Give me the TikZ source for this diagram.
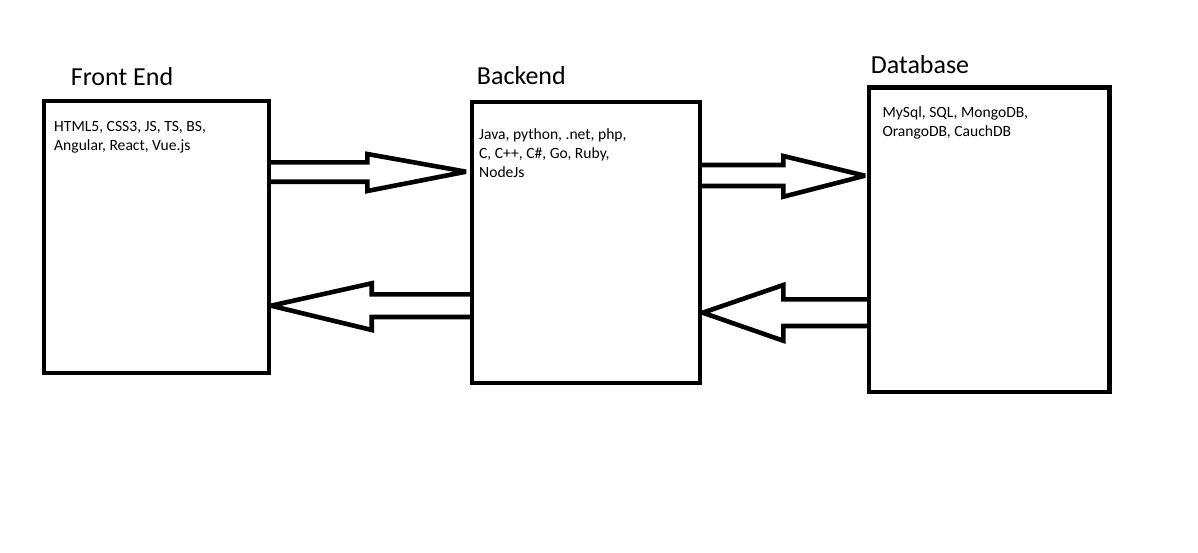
\documentclass[tikz,border=0pt]{standalone}
\usepackage{fontspec}
\setmainfont{Carlito}
\usetikzlibrary{calc}
\begin{document}
\begin{tikzpicture}[x=1pt,y=-1pt,
  box/.style={draw=black,line width=4.6pt,rectangle,outer sep=0pt,inner sep=0pt},
  title/.style={anchor=base west,inner sep=0pt,font=\fontsize{26}{31}\selectfont},
  body/.style={anchor=base west,inner sep=0pt,font=\fontsize{15.6}{19.2}\selectfont},
  blockarrow/.style={draw=black,line width=4.6pt,line join=miter,miter limit=2.5}]
\useasboundingbox[fill=white] (0,0) rectangle (1198,552);
% boxes
\node[box,minimum width=225pt,minimum height=272pt] (fe) at (156.5,237) {};
\node[box,minimum width=228pt,minimum height=281pt] (be) at (586,242.5) {};
\node[box,minimum width=240.5pt,minimum height=304.5pt] (db) at (989.25,239.75) {};
% titles
\node[title] (fet) at (70.7,85) {Front End};
\node[title] (bet) at (476.7,84) {Backend};
\node[title] (dbt) at (870.7,73.3) {Database};
% contents
\node[body] (fel) at (54,131) {\begin{tabular}[t]{@{}l@{}}HTML5, CSS3, JS, TS, BS,\\Angular, React, Vue.js\end{tabular}};
\node[body] (bel) at (479,139.3) {\begin{tabular}[t]{@{}l@{}}Java, python, .net, php,\\C, C++, C\#, Go, Ruby,\\NodeJs\end{tabular}};
\node[body] (dbl) at (882.3,117.3) {\begin{tabular}[t]{@{}l@{}}MySql, SQL, MongoDB,\\OrangoDB, CauchDB\end{tabular}};
% block arrows
% front end -> backend
\draw[blockarrow] (fe.east |- 0,162.3) -- (367.3,162.3) -- (367.3,154) -- ($(be.west |- 0,171.7)+(-6,0)$) -- (367.3,191) -- (367.3,181.7) -- (fe.east |- 0,181.7);
% backend -> database
\draw[blockarrow] (be.east |- 0,165) -- (783.3,165) -- (783.3,156) -- ($(db.west |- 0,175.7)+(-4,0)$) -- (783.3,196.7) -- (783.3,186) -- (be.east |- 0,186);
% backend -> front end
\draw[blockarrow] (be.west |- 0,294.3) -- (371.7,294.3) -- (371.7,283.3) -- ($(fe.east |- 0,305.7)+(2,0)$) -- (371.7,330) -- (371.7,317) -- (be.west |- 0,317);
% database -> backend
\draw[blockarrow] (db.west |- 0,299.3) -- (783.3,299.3) -- (783.3,285) -- ($(be.east |- 0,312.7)+(2.7,0)$) -- (783.3,340.7) -- (783.3,326) -- (db.west |- 0,326);
\end{tikzpicture}
\end{document}
